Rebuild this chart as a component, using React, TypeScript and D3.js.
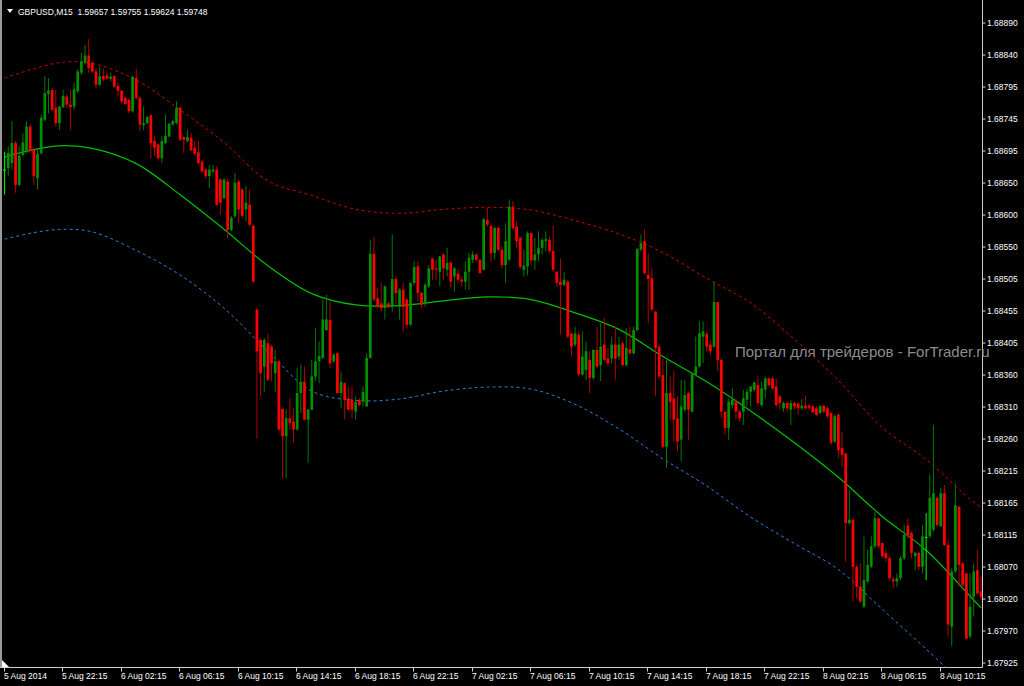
import React from 'react';
import * as d3 from 'd3';

const W = 1024;
const H = 686;

const titleText = 'GBPUSD,M15  1.59657 1.59755 1.59624 1.59748';
const watermark = 'Портал для трейдеров - ForTrader.ru';

const open = [
1.68669,1.68671,1.68679,1.68709,1.68646,1.68691,1.68697,1.68734,1.68699,1.68656,
1.68694,1.68744,1.68783,1.68789,1.68762,1.68739,1.68763,1.68779,1.68767,1.68764,
1.68787,1.68815,1.68830,1.68841,1.68830,1.68817,1.68797,1.68810,1.68811,1.68806,
1.68810,1.68795,1.68788,1.68777,1.68774,1.68757,1.68807,1.68777,1.68736,1.68739,
1.68751,1.68712,1.68707,1.68686,1.68709,1.68719,1.68737,1.68739,1.68762,1.68718,
1.68712,1.68717,1.68702,1.68695,1.68681,1.68669,1.68659,1.68666,1.68669,1.68654,
1.68626,1.68651,1.68578,1.68599,1.68651,1.68639,1.68609,1.68616,1.68584,1.68458,
1.68412,1.68372,1.68407,1.68402,1.68362,1.68380,1.68308,1.68267,1.68294,1.68289,
1.68277,1.68332,1.68349,1.68292,1.68307,1.68357,1.68380,1.68385,1.68427,1.68442,
1.68380,1.68392,1.68332,1.68347,1.68324,1.68322,1.68304,1.68322,1.68319,1.68312,
1.68385,1.68542,1.68475,1.68467,1.68460,1.68467,1.68462,1.68504,1.68462,1.68488,
1.68473,1.68435,1.68498,1.68523,1.68483,1.68467,1.68493,1.68535,1.68520,1.68515,
1.68541,1.68518,1.68529,1.68508,1.68512,1.68503,1.68500,1.68515,1.68533,1.68541,
1.68533,1.68518,1.68593,1.68584,1.68543,1.68581,1.68548,1.68525,1.68533,1.68613,
1.68583,1.68566,1.68518,1.68523,1.68573,1.68532,1.68541,1.68551,1.68561,1.68563,
1.68546,1.68515,1.68500,1.68495,1.68500,1.68422,1.68405,1.68420,1.68360,1.68367,
1.68382,1.68355,1.68397,1.68374,1.68405,1.68384,1.68384,1.68405,1.68387,1.68407,
1.68374,1.68398,1.68392,1.68427,1.68548,1.68561,1.68510,1.68505,1.68455,1.68402,
1.68359,1.68251,1.68332,1.68324,1.68294,1.68262,1.68307,1.68332,1.68304,1.68360,
1.68372,1.68417,1.68421,1.68405,1.68402,1.68469,1.68382,1.68304,1.68279,1.68314,
1.68319,1.68304,1.68304,1.68322,1.68334,1.68337,1.68344,1.68314,1.68337,1.68354,
1.68354,1.68342,1.68327,1.68309,1.68317,1.68307,1.68317,1.68316,1.68309,1.68313,
1.68313,1.68312,1.68309,1.68302,1.68313,1.68309,1.68302,1.68259,1.68299,1.68249,
1.68241,1.68136,1.68141,1.68070,1.68040,1.68010,1.68048,1.68070,1.68101,1.68143,
1.68106,1.68091,1.68083,1.68051,1.68048,1.68053,1.68083,1.68132,1.68121,1.68086,
1.68091,1.68070,1.68115,1.68116,1.68126,1.68174,1.68131,1.68181,1.68103,1.67980,
1.68063,1.68161,1.68075,1.68060,1.67965,1.68025,1.68065,1.68033];

const high = [
1.68696,1.68704,1.68742,1.68712,1.68704,1.68724,1.68742,1.68737,1.68702,1.68699,
1.68752,1.68810,1.68807,1.68792,1.68789,1.68765,1.68789,1.68782,1.68789,1.68800,
1.68820,1.68845,1.68857,1.68866,1.68832,1.68822,1.68824,1.68821,1.68815,1.68815,
1.68811,1.68800,1.68789,1.68779,1.68777,1.68810,1.68821,1.68779,1.68764,1.68750,
1.68752,1.68719,1.68709,1.68719,1.68752,1.68739,1.68744,1.68772,1.68764,1.68719,
1.68729,1.68724,1.68712,1.68712,1.68684,1.68671,1.68676,1.68676,1.68674,1.68656,
1.68656,1.68656,1.68599,1.68664,1.68654,1.68641,1.68644,1.68639,1.68586,1.68460,
1.68415,1.68415,1.68421,1.68405,1.68397,1.68382,1.68309,1.68307,1.68324,1.68309,
1.68370,1.68375,1.68372,1.68308,1.68382,1.68430,1.68410,1.68473,1.68480,1.68470,
1.68392,1.68393,1.68363,1.68348,1.68342,1.68342,1.68327,1.68324,1.68342,1.68392,
1.68563,1.68568,1.68490,1.68498,1.68494,1.68470,1.68571,1.68508,1.68490,1.68498,
1.68474,1.68499,1.68531,1.68531,1.68484,1.68498,1.68525,1.68536,1.68533,1.68539,
1.68543,1.68551,1.68530,1.68522,1.68518,1.68508,1.68531,1.68543,1.68546,1.68543,
1.68534,1.68596,1.68611,1.68586,1.68583,1.68583,1.68553,1.68588,1.68624,1.68621,
1.68591,1.68568,1.68548,1.68576,1.68574,1.68566,1.68576,1.68566,1.68576,1.68568,
1.68584,1.68515,1.68535,1.68515,1.68503,1.68423,1.68432,1.68425,1.68425,1.68410,
1.68395,1.68398,1.68432,1.68437,1.68445,1.68400,1.68417,1.68432,1.68417,1.68410,
1.68430,1.68432,1.68432,1.68551,1.68571,1.68579,1.68543,1.68520,1.68455,1.68405,
1.68384,1.68382,1.68357,1.68365,1.68327,1.68352,1.68352,1.68334,1.68364,1.68417,
1.68440,1.68440,1.68425,1.68412,1.68500,1.68469,1.68385,1.68304,1.68324,1.68339,
1.68324,1.68307,1.68337,1.68339,1.68342,1.68349,1.68357,1.68349,1.68357,1.68356,
1.68357,1.68354,1.68329,1.68319,1.68320,1.68322,1.68319,1.68319,1.68323,1.68328,
1.68316,1.68314,1.68312,1.68314,1.68313,1.68312,1.68304,1.68300,1.68302,1.68274,
1.68241,1.68186,1.68143,1.68073,1.68075,1.68116,1.68096,1.68116,1.68153,1.68144,
1.68106,1.68096,1.68086,1.68055,1.68060,1.68086,1.68133,1.68143,1.68123,1.68093,
1.68093,1.68133,1.68151,1.68209,1.68284,1.68176,1.68189,1.68193,1.68111,1.68068,
1.68196,1.68161,1.68078,1.68060,1.68060,1.68075,1.68096,1.68055];

const low = [
1.68631,1.68659,1.68669,1.68634,1.68644,1.68689,1.68694,1.68694,1.68646,1.68639,
1.68691,1.68742,1.68754,1.68757,1.68734,1.68729,1.68762,1.68762,1.68729,1.68759,
1.68784,1.68812,1.68827,1.68815,1.68815,1.68792,1.68795,1.68802,1.68805,1.68802,
1.68792,1.68779,1.68769,1.68767,1.68754,1.68755,1.68774,1.68727,1.68729,1.68737,
1.68686,1.68689,1.68684,1.68679,1.68707,1.68718,1.68735,1.68737,1.68712,1.68694,
1.68710,1.68697,1.68691,1.68676,1.68664,1.68656,1.68641,1.68664,1.68614,1.68601,
1.68624,1.68566,1.68576,1.68596,1.68588,1.68596,1.68591,1.68583,1.68498,1.68264,
1.68327,1.68334,1.68350,1.68350,1.68334,1.68276,1.68204,1.68204,1.68277,1.68257,
1.68276,1.68302,1.68291,1.68227,1.68306,1.68350,1.68347,1.68383,1.68426,1.68370,
1.68377,1.68331,1.68309,1.68292,1.68306,1.68294,1.68292,1.68312,1.68312,1.68311,
1.68384,1.68470,1.68460,1.68455,1.68443,1.68460,1.68455,1.68467,1.68443,1.68425,
1.68430,1.68434,1.68495,1.68470,1.68460,1.68462,1.68490,1.68503,1.68503,1.68493,
1.68503,1.68508,1.68490,1.68485,1.68498,1.68493,1.68488,1.68488,1.68528,1.68530,
1.68512,1.68517,1.68583,1.68530,1.68533,1.68546,1.68520,1.68498,1.68531,1.68578,
1.68551,1.68520,1.68508,1.68510,1.68525,1.68518,1.68531,1.68541,1.68546,1.68543,
1.68515,1.68493,1.68420,1.68493,1.68415,1.68387,1.68402,1.68357,1.68358,1.68352,
1.68332,1.68352,1.68370,1.68350,1.68380,1.68372,1.68377,1.68352,1.68382,1.68372,
1.68372,1.68390,1.68390,1.68425,1.68546,1.68510,1.68437,1.68455,1.68327,1.68355,
1.68249,1.68219,1.68292,1.68259,1.68244,1.68229,1.68304,1.68262,1.68303,1.68357,
1.68370,1.68377,1.68395,1.68389,1.68400,1.68365,1.68294,1.68269,1.68261,1.68309,
1.68292,1.68289,1.68284,1.68312,1.68312,1.68334,1.68314,1.68312,1.68324,1.68342,
1.68337,1.68312,1.68307,1.68304,1.68304,1.68284,1.68307,1.68299,1.68307,1.68307,
1.68307,1.68302,1.68297,1.68300,1.68302,1.68294,1.68254,1.68257,1.68234,1.68221,
1.68078,1.68133,1.68018,1.68023,1.68015,1.68008,1.68045,1.68068,1.68098,1.68098,
1.68083,1.68078,1.68050,1.68038,1.68040,1.68050,1.68080,1.68113,1.68083,1.68065,
1.68065,1.68060,1.68050,1.68113,1.68123,1.68131,1.68131,1.68101,1.67965,1.67950,
1.68060,1.68040,1.68038,1.67960,1.67962,1.67995,1.68028,1.68020];

const close = [
1.68669,1.68694,1.68709,1.68646,1.68690,1.68710,1.68734,1.68697,1.68659,1.68693,
1.68747,1.68784,1.68788,1.68759,1.68739,1.68764,1.68780,1.68767,1.68763,1.68790,
1.68817,1.68832,1.68841,1.68822,1.68817,1.68797,1.68810,1.68805,1.68806,1.68809,
1.68794,1.68788,1.68772,1.68768,1.68757,1.68809,1.68777,1.68737,1.68739,1.68748,
1.68709,1.68702,1.68686,1.68712,1.68720,1.68738,1.68742,1.68762,1.68714,1.68714,
1.68718,1.68698,1.68693,1.68679,1.68666,1.68659,1.68669,1.68669,1.68616,1.68619,
1.68654,1.68578,1.68596,1.68649,1.68609,1.68599,1.68619,1.68586,1.68500,1.68395,
1.68362,1.68412,1.68352,1.68377,1.68380,1.68277,1.68267,1.68294,1.68287,1.68277,
1.68332,1.68349,1.68292,1.68307,1.68357,1.68380,1.68388,1.68443,1.68443,1.68377,
1.68390,1.68332,1.68349,1.68322,1.68307,1.68307,1.68319,1.68314,1.68334,1.68385,
1.68542,1.68473,1.68463,1.68460,1.68493,1.68462,1.68504,1.68483,1.68488,1.68462,
1.68435,1.68498,1.68522,1.68483,1.68465,1.68495,1.68520,1.68518,1.68518,1.68538,
1.68520,1.68528,1.68500,1.68520,1.68503,1.68500,1.68515,1.68536,1.68541,1.68533,
1.68513,1.68594,1.68586,1.68543,1.68581,1.68548,1.68525,1.68561,1.68613,1.68581,
1.68561,1.68522,1.68524,1.68573,1.68532,1.68541,1.68551,1.68563,1.68564,1.68546,
1.68518,1.68498,1.68495,1.68503,1.68417,1.68402,1.68422,1.68360,1.68387,1.68395,
1.68355,1.68397,1.68372,1.68402,1.68382,1.68377,1.68405,1.68384,1.68405,1.68374,
1.68400,1.68392,1.68427,1.68549,1.68558,1.68513,1.68504,1.68458,1.68400,1.68357,
1.68251,1.68332,1.68319,1.68292,1.68259,1.68312,1.68329,1.68307,1.68362,1.68372,
1.68422,1.68425,1.68402,1.68395,1.68469,1.68382,1.68304,1.68279,1.68319,1.68322,
1.68304,1.68294,1.68324,1.68334,1.68342,1.68348,1.68317,1.68339,1.68354,1.68344,
1.68339,1.68314,1.68317,1.68317,1.68309,1.68317,1.68312,1.68309,1.68313,1.68309,
1.68310,1.68303,1.68299,1.68312,1.68304,1.68297,1.68257,1.68297,1.68246,1.68239,
1.68136,1.68141,1.68070,1.68040,1.68018,1.68050,1.68073,1.68101,1.68143,1.68101,
1.68086,1.68083,1.68053,1.68048,1.68053,1.68083,1.68118,1.68118,1.68091,1.68091,
1.68070,1.68116,1.68115,1.68174,1.68181,1.68133,1.68181,1.68103,1.67983,1.68063,
1.68163,1.68073,1.68043,1.67962,1.68010,1.68063,1.68030,1.68025];

// indicator lines, read at selected bar indices
const lineIdx = [0,8,16,24,36,48,60,72,84,96,108,120,132,144,156,168,180,192,204,216,228,240,252,264,267];
const maValues = [1.68688,1.68699,1.68705,1.68701,1.68678,1.68631,1.68579,1.68524,1.68482,1.68465,1.68464,1.68471,1.68477,1.68473,1.68453,1.68428,1.68387,1.68349,1.68305,1.68257,1.68205,1.68146,1.68095,1.68026,1.68008];
const upperValues = [1.68807,1.68821,1.68831,1.68829,1.68804,1.68759,1.68710,1.68652,1.68630,1.68609,1.68603,1.68609,1.68612,1.68608,1.68592,1.68572,1.68544,1.68505,1.68468,1.68413,1.68351,1.68280,1.68232,1.68172,1.68160];
const lowerIdx = [0,8,16,24,36,48,60,72,84,96,108,120,132,144,156,168,180,192,204,216,228,240,252,258];
const lowerValues = [1.68564,1.68574,1.68579,1.68575,1.68547,1.68510,1.68460,1.68395,1.68335,1.68321,1.68323,1.68335,1.68341,1.68338,1.68315,1.68278,1.68233,1.68192,1.68145,1.68105,1.68066,1.68006,1.67946,1.67915];

const priceLabels = ['1.68890','1.68840','1.68795','1.68745','1.68695','1.68650','1.68600','1.68550','1.68505','1.68455','1.68405','1.68360','1.68310','1.68260','1.68215','1.68165','1.68115','1.68070','1.68020','1.67970','1.67925'];
const priceTop = 1.6889;
const priceBottom = 1.67925;

const timeLabels = ['5 Aug 2014','5 Aug 22:15','6 Aug 02:15','6 Aug 06:15','6 Aug 10:15','6 Aug 14:15','6 Aug 18:15','6 Aug 22:15','7 Aug 02:15','7 Aug 06:15','7 Aug 10:15','7 Aug 14:15','7 Aug 18:15','7 Aug 22:15','8 Aug 02:15','8 Aug 06:15','8 Aug 10:15'];
const timeLabelBars = [0,16,32,48,64,80,96,112,128,144,160,176,192,208,224,240,256];

const FONT = '"Liberation Sans", Arial, sans-serif';

export default function App() {
  const n = open.length;
  const plotRight = 982.5;
  const plotBottom = 667.5;
  const x = d3.scaleLinear().domain([0, n - 1]).range([4.6, 981]);
  const y = d3.scaleLinear().domain([priceBottom, priceTop]).range([663, 23]);
  const tickStep = (priceTop - priceBottom) / (priceLabels.length - 1);

  const lineGen = d3.line<[number, number]>()
    .x((d) => x(d[0]))
    .y((d) => y(d[1]))
    .curve(d3.curveCatmullRom.alpha(0.5));

  const maPath = lineGen(lineIdx.map((b, k) => [b, maValues[k]] as [number, number])) || '';
  const upPath = lineGen(lineIdx.map((b, k) => [b, upperValues[k]] as [number, number])) || '';
  const loPath = lineGen(lowerIdx.map((b, k) => [b, lowerValues[k]] as [number, number])) || '';

  const bw = 2.7;

  return (
    <svg width={W} height={H} style={{ position: 'absolute', left: 0, top: 0, background: '#000' }}>
      <rect x={0} y={0} width={W} height={H} fill="#000" />
      <defs>
        <clipPath id="plot">
          <rect x={3} y={0} width={plotRight - 3} height={plotBottom} />
        </clipPath>
      </defs>

      {/* frame */}
      <line x1={1} y1={0} x2={1} y2={plotBottom} stroke="#9a9a9a" strokeWidth={2} />
      <line x1={plotRight} y1={0} x2={plotRight} y2={plotBottom} stroke="#d0d0d0" strokeWidth={1} />
      <line x1={0} y1={plotBottom} x2={plotRight} y2={plotBottom} stroke="#d0d0d0" strokeWidth={1} />
      <polygon points={`2,660 2,667 9,667`} fill="#ffffff" />

      {/* watermark */}
      <text x={735} y={357} fill="#8c8c8c" fontSize={15} fontFamily={FONT}>{watermark}</text>

      <g clipPath="url(#plot)">
        {/* indicator lines */}
        <path d={upPath} fill="none" stroke="#c80000" strokeWidth={1} strokeDasharray="3,3" />
        <path d={loPath} fill="none" stroke="#2a80d8" strokeWidth={1} strokeDasharray="3,3" />
        <path d={maPath} fill="none" stroke="#00c000" strokeWidth={1.2} />

        {/* candles */}
        {open.map((o, i) => {
          const c = close[i];
          const cx = x(i);
          const doji = o === c;
          const bull = c > o;
          const wickColor = doji ? '#00ff00' : bull ? '#007a00' : '#b40000';
          const bodyColor = doji ? '#00ff00' : bull ? '#009000' : '#ff0000';
          const yTop = y(Math.max(o, c));
          const yBot = y(Math.min(o, c));
          return (
            <g key={i}>
              <line x1={cx} x2={cx} y1={y(high[i])} y2={y(low[i])} stroke={wickColor} strokeWidth={1} />
              <rect x={cx - bw / 2} y={yTop} width={bw} height={Math.max(1, yBot - yTop)} fill={bodyColor} />
            </g>
          );
        })}
      </g>

      {/* price axis */}
      {priceLabels.map((lab, k) => {
        const yy = y(priceTop - k * tickStep);
        return (
          <g key={lab}>
            <line x1={plotRight} x2={plotRight + 3} y1={yy} y2={yy} stroke="#d0d0d0" strokeWidth={1} />
            <text x={987} y={yy} dy="0.35em" fill="#ffffff" fontSize={8.5} fontFamily={FONT}>{lab}</text>
          </g>
        );
      })}

      {/* time axis */}
      {timeLabels.map((lab, k) => {
        const xx = Math.round(x(timeLabelBars[k]) - 1) + 0.5;
        return (
          <g key={lab}>
            <line x1={xx} x2={xx} y1={plotBottom} y2={plotBottom + 4} stroke="#d0d0d0" strokeWidth={1} />
            <text x={xx - 0.5} y={679} fill="#ffffff" fontSize={8.5} fontFamily={FONT}>{lab}</text>
          </g>
        );
      })}

      {/* title */}
      <polygon points="7,9 13,9 10,13" fill="#ffffff" />
      <text x={18} y={15} fill="#ffffff" fontSize={8.5} fontFamily={FONT} style={{ whiteSpace: 'pre' }}>{titleText}</text>
    </svg>
  );
}
